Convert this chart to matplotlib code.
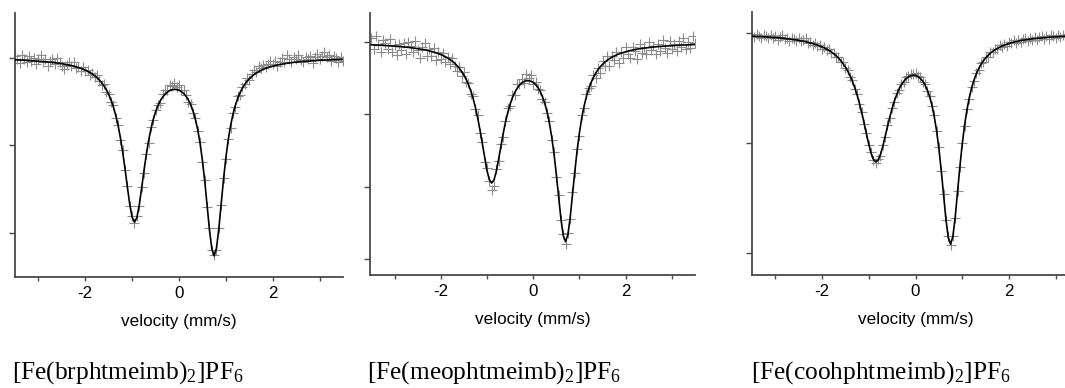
import numpy as np
import matplotlib
matplotlib.use("Agg")
import matplotlib.pyplot as plt

plt.rcParams['font.family'] = ['Liberation Sans', 'DejaVu Sans']
plt.rcParams['mathtext.fontset'] = 'custom'
plt.rcParams['mathtext.rm'] = 'Liberation Serif'
plt.rcParams['mathtext.it'] = 'Liberation Serif:italic'

# velocity channels (mm/s), same grid for all three spectra
velocity = np.linspace(-3.5, 3.5, 141)

# relative transmission (%)
# [Fe(brphtmeimb)2]PF6
fit_br = [
    99.79, 99.78, 99.77, 99.75, 99.74, 99.73, 99.71, 99.70, 99.68, 99.66,
    99.64, 99.62, 99.60, 99.57, 99.55, 99.52, 99.49, 99.46, 99.43, 99.39,
    99.35, 99.30, 99.25, 99.20, 99.14, 99.08, 99.00, 98.92, 98.83, 98.72,
    98.62, 98.48, 98.33, 98.17, 97.97, 97.74, 97.48, 97.16, 96.80, 96.36,
    95.83, 95.19, 94.40, 93.45, 92.29, 90.87, 89.18, 87.25, 85.18, 83.24,
    81.79, 81.23, 81.73, 83.13, 85.02, 87.03, 88.90, 90.52, 91.87, 92.97,
    93.85, 94.55, 95.10, 95.53, 95.86, 96.09, 96.27, 96.37, 96.41, 96.40,
    96.31, 96.16, 95.94, 95.62, 95.20, 94.65, 93.92, 92.99, 91.79, 90.24,
    88.29, 85.90, 83.16, 80.37, 78.20, 77.38, 78.26, 80.49, 83.34, 86.14,
    88.60, 90.62, 92.24, 93.52, 94.53, 95.35, 96.00, 96.53, 96.96, 97.33,
    97.63, 97.88, 98.10, 98.28, 98.44, 98.58, 98.71, 98.82, 98.91, 99.00,
    99.07, 99.14, 99.20, 99.25, 99.30, 99.35, 99.39, 99.43, 99.47, 99.50,
    99.53, 99.56, 99.58, 99.60, 99.63, 99.65, 99.67, 99.68, 99.70, 99.72,
    99.73, 99.75, 99.76, 99.77, 99.78, 99.79, 99.80, 99.81, 99.82, 99.83,
    99.84]
data_br = [
    100.19, 99.88, 99.47, 100.35, 99.94, 99.53, 100.21, 99.70, 99.98, 99.26,
    99.84, 100.32, 99.50, 99.87, 99.05, 99.62, 99.89, 99.26, 100.03, 99.59,
    99.05, 98.70, 99.25, 99.50, 99.04, 99.58, 98.80, 99.02, 98.53, 98.92,
    98.52, 98.68, 98.03, 98.27, 97.77, 98.04, 97.38, 96.86, 97.00, 96.16,
    95.93, 94.99, 94.60, 93.15, 92.39, 90.67, 89.48, 87.15, 85.38, 83.04,
    81.89, 81.13, 81.93, 83.03, 85.22, 86.83, 89.00, 90.32, 92.07, 92.87,
    94.05, 94.65, 94.90, 95.83, 96.36, 96.29, 96.87, 96.77, 97.11, 96.70,
    96.91, 96.36, 96.34, 95.72, 95.00, 94.75, 93.72, 93.19, 91.69, 90.44,
    88.09, 86.00, 82.96, 80.57, 78.10, 77.48, 78.06, 80.59, 83.24, 86.34,
    88.40, 90.72, 92.04, 93.72, 94.43, 95.65, 95.80, 96.73, 97.06, 97.73,
    97.53, 98.18, 98.60, 98.38, 99.04, 98.88, 99.21, 98.92, 99.31, 99.60,
    99.27, 99.64, 99.10, 99.55, 100.00, 99.55, 100.29, 99.83, 99.57, 100.10,
    99.83, 100.36, 99.78, 99.50, 100.13, 99.85, 100.27, 99.48, 100.10, 100.42,
    99.83, 100.25, 100.66, 100.07, 100.38, 99.69, 100.20, 100.01, 99.52, 100.13,
    99.64]

# [Fe(meophtmeimb)2]PF6
fit_meo = [
    99.81, 99.80, 99.79, 99.78, 99.78, 99.77, 99.76, 99.75, 99.74, 99.73,
    99.72, 99.70, 99.69, 99.68, 99.66, 99.65, 99.63, 99.61, 99.59, 99.57,
    99.54, 99.52, 99.49, 99.46, 99.43, 99.39, 99.35, 99.30, 99.25, 99.20,
    99.14, 99.07, 98.99, 98.90, 98.79, 98.68, 98.54, 98.38, 98.20, 97.98,
    97.72, 97.42, 97.06, 96.62, 96.10, 95.48, 94.74, 93.90, 92.96, 92.00,
    91.12, 90.49, 90.25, 90.45, 91.03, 91.86, 92.77, 93.66, 94.45, 95.13,
    95.69, 96.15, 96.51, 96.79, 97.01, 97.17, 97.27, 97.32, 97.33, 97.29,
    97.21, 97.07, 96.87, 96.59, 96.23, 95.77, 95.17, 94.41, 93.45, 92.27,
    90.86, 89.29, 87.77, 86.62, 86.20, 86.67, 87.86, 89.43, 91.04, 92.49,
    93.73, 94.74, 95.56, 96.22, 96.75, 97.19, 97.54, 97.84, 98.08, 98.29,
    98.46, 98.61, 98.74, 98.85, 98.95, 99.03, 99.11, 99.17, 99.23, 99.28,
    99.33, 99.37, 99.41, 99.45, 99.48, 99.51, 99.54, 99.56, 99.58, 99.60,
    99.62, 99.64, 99.66, 99.67, 99.69, 99.70, 99.71, 99.72, 99.73, 99.74,
    99.75, 99.76, 99.77, 99.78, 99.79, 99.80, 99.80, 99.81, 99.82, 99.82,
    99.83]
data_meo = [
    100.31, 99.50, 100.39, 99.88, 99.28, 100.17, 99.96, 99.55, 100.24, 99.33,
    99.82, 99.10, 99.89, 99.48, 99.96, 99.15, 100.03, 99.71, 99.29, 100.07,
    99.44, 98.92, 99.69, 99.96, 99.03, 99.49, 99.05, 99.60, 98.75, 99.30,
    98.84, 99.27, 98.59, 99.00, 98.49, 98.88, 98.34, 97.98, 98.30, 97.68,
    97.92, 97.22, 97.16, 96.42, 96.30, 95.38, 94.94, 93.70, 93.06, 91.70,
    91.32, 90.39, 89.80, 90.05, 91.23, 91.76, 92.97, 93.46, 94.55, 95.43,
    95.59, 96.35, 96.31, 97.09, 97.11, 97.47, 97.17, 97.82, 97.53, 97.69,
    97.11, 97.27, 96.77, 96.69, 96.03, 95.87, 95.07, 94.51, 93.25, 92.37,
    90.66, 89.39, 87.67, 86.72, 86.00, 86.77, 87.76, 89.63, 90.94, 92.59,
    93.53, 94.94, 95.46, 96.42, 96.85, 96.99, 97.74, 97.54, 98.18, 97.89,
    98.66, 98.31, 99.04, 98.35, 99.05, 98.73, 99.31, 98.57, 99.33, 98.88,
    99.63, 99.17, 98.91, 99.65, 99.38, 98.81, 99.84, 99.26, 99.68, 99.20,
    100.02, 99.44, 99.76, 99.17, 99.89, 99.40, 100.11, 99.62, 99.23, 100.04,
    99.55, 99.86, 99.37, 100.08, 99.69, 100.30, 99.50, 100.01, 99.62, 100.42,
    99.93]

# [Fe(coohphtmeimb)2]PF6
fit_cooh = [
    99.85, 99.85, 99.84, 99.84, 99.83, 99.82, 99.82, 99.81, 99.80, 99.79,
    99.79, 99.78, 99.77, 99.76, 99.75, 99.73, 99.72, 99.71, 99.69, 99.68,
    99.66, 99.64, 99.62, 99.60, 99.57, 99.54, 99.52, 99.48, 99.45, 99.41,
    99.36, 99.32, 99.26, 99.20, 99.13, 99.05, 98.96, 98.86, 98.74, 98.60,
    98.45, 98.26, 98.05, 97.80, 97.51, 97.18, 96.80, 96.37, 95.90, 95.41,
    94.94, 94.53, 94.25, 94.14, 94.22, 94.47, 94.85, 95.29, 95.75, 96.18,
    96.57, 96.92, 97.21, 97.45, 97.65, 97.80, 97.92, 98.01, 98.06, 98.08,
    98.07, 98.02, 97.94, 97.82, 97.65, 97.42, 97.12, 96.73, 96.22, 95.57,
    94.76, 93.77, 92.66, 91.56, 90.71, 90.40, 90.75, 91.63, 92.77, 93.92,
    94.94, 95.80, 96.49, 97.04, 97.49, 97.84, 98.13, 98.37, 98.56, 98.72,
    98.86, 98.97, 99.07, 99.16, 99.23, 99.29, 99.35, 99.40, 99.44, 99.48,
    99.52, 99.55, 99.58, 99.60, 99.62, 99.65, 99.67, 99.68, 99.70, 99.71,
    99.73, 99.74, 99.75, 99.76, 99.77, 99.78, 99.79, 99.80, 99.81, 99.82,
    99.82, 99.83, 99.84, 99.84, 99.85, 99.85, 99.86, 99.86, 99.87, 99.87,
    99.88]
data_cooh = [
    99.93, 99.80, 99.96, 99.86, 99.75, 99.92, 99.86, 99.75, 99.89, 99.76,
    99.86, 99.69, 99.82, 99.89, 99.71, 99.79, 99.62, 99.79, 99.71, 99.61,
    99.76, 99.61, 99.69, 99.75, 99.52, 99.58, 99.43, 99.54, 99.41, 99.46,
    99.29, 99.36, 99.21, 99.26, 99.10, 99.10, 98.90, 98.90, 98.69, 98.66,
    98.42, 98.30, 97.99, 97.85, 97.47, 97.23, 96.77, 96.41, 95.85, 95.44,
    94.90, 94.58, 94.22, 94.08, 94.26, 94.42, 94.89, 95.26, 95.80, 96.14,
    96.60, 96.87, 97.25, 97.42, 97.70, 97.78, 97.98, 98.04, 98.14, 98.13,
    98.16, 98.06, 98.00, 97.79, 97.69, 97.38, 97.15, 96.69, 96.27, 95.54,
    94.80, 93.72, 92.69, 91.52, 90.76, 90.37, 90.79, 91.58, 92.81, 93.89,
    94.99, 95.76, 96.52, 96.99, 97.53, 97.81, 98.18, 98.33, 98.62, 98.69,
    98.91, 98.92, 99.14, 99.13, 99.29, 99.25, 99.43, 99.35, 99.48, 99.42,
    99.59, 99.52, 99.67, 99.56, 99.68, 99.58, 99.72, 99.78, 99.65, 99.78,
    99.70, 99.83, 99.69, 99.81, 99.88, 99.74, 99.85, 99.73, 99.89, 99.84,
    99.77, 99.92, 99.81, 99.90, 99.81, 99.93, 99.84, 99.93, 99.82, 99.91,
    99.90]

names = [r'[Fe(brphtmeimb)$_2$]PF$_6$',
         r'[Fe(meophtmeimb)$_2$]PF$_6$',
         r'[Fe(coohphtmeimb)$_2$]PF$_6$']
fits = [fit_br, fit_meo, fit_cooh]
datas = [data_br, data_meo, data_cooh]
yticks = [[80, 90, 100], [85, 90, 95, 100], [90, 95, 100]]

W, H = 1065, 388
fig = plt.figure(figsize=(W / 100, H / 100), dpi=100)

# pixel boxes (left, right, top, bottom) and y-limits for each panel
boxes = [(15, 343, 13, 277), (370, 695, 13, 275), (752, 1079, 12, 275)]
ylims = [(74.97, 105.14), (83.89, 102.01), (89.0, 100.95)]
xlims = [(-3.5, 3.5), (-3.53, 3.5), (-3.5, 3.5)]
name_x = [12, 367, 751]

axc = '#4a4a4a'
for i in range(3):
    l, r, t, b = boxes[i]
    ax = fig.add_axes([l / W, (H - b) / H, (r - l) / W, (b - t) / H])
    ax.plot(velocity, datas[i], '+', color='#8c8c8c', ms=6.5, mew=0.8, zorder=2)
    ax.plot(velocity, fits[i], '-', color='black', lw=1.2, zorder=3)
    ax.set_xlim(*xlims[i])
    ax.set_ylim(*ylims[i])
    ax.set_xticks([-2, 0, 2])
    ax.set_xticks([-3, -1, 1, 3], minor=True)
    ax.set_xticklabels(['-2', '0', '2'])
    ax.set_yticks(yticks[i])
    ax.set_yticklabels([])
    for s in ['top', 'right']:
        ax.spines[s].set_visible(False)
    for s in ['left', 'bottom']:
        ax.spines[s].set_color(axc)
        ax.spines[s].set_linewidth(1.3)
    ax.tick_params(axis='both', which='both', direction='out', color=axc,
                   width=1.0, labelsize=12.2, pad=3.5)
    ax.tick_params(axis='x', which='both', length=3)
    ax.tick_params(axis='y', length=4)
    ax.set_xlabel('velocity (mm/s)', fontsize=12.3, labelpad=9)
    ax.patch.set_alpha(0)
    fig.text(name_x[i] / W, 1 - 373 / H, names[i], family='Liberation Serif',
             fontsize=18.3, ha='left', va='center')

fig.savefig('out.png', dpi=100)
